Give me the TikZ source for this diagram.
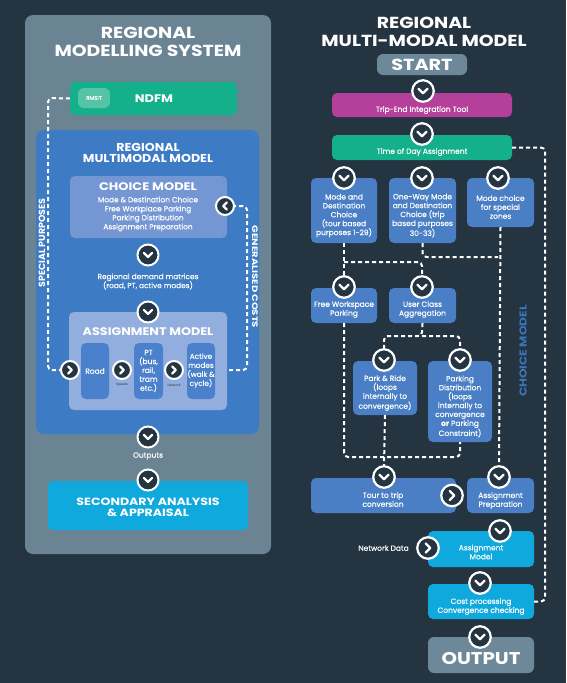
\documentclass[tikz,border=0pt]{standalone}
\usepackage{fontspec}
\usepackage{graphicx}
\setmainfont{Poppins}
\newfontfamily\txtf{Poppins}[FakeBold=0.35]
\usetikzlibrary{calc}
\definecolor{bgc}{HTML}{243441}
\definecolor{panel}{HTML}{6A8494}
\definecolor{rmm}{HTML}{3D7BC4}
\definecolor{chbox}{HTML}{7496D3}
\definecolor{asbox}{HTML}{92AEDF}
\definecolor{modebox}{HTML}{4A80CC}
\definecolor{ndfm}{HTML}{14B08C}
\definecolor{rmsit}{HTML}{55C4A6}
\definecolor{cyanbox}{HTML}{0FA9DD}
\definecolor{greybox}{HTML}{6D8999}
\definecolor{magbox}{HTML}{B5409C}
\definecolor{rblue}{HTML}{4B7FC5}
\definecolor{cmtext}{HTML}{3B74BB}
\definecolor{tiny}{HTML}{2A3A45}
\newcommand\widetxt[1]{\scalebox{1.18}[1]{#1}}
\tikzset{
  box/.style={rounded corners=5pt, inner sep=0pt, draw=none},
  txt/.style={text=white, align=center, inner sep=0pt, font=\txtf\fontsize{7.5}{8.9}\selectfont},
  ttl/.style={text=white, align=center, inner sep=0pt, font=\bfseries\fontsize{16}{18.5}\selectfont},
  hd/.style={text=white, align=center, inner sep=0pt, font=\bfseries\fontsize{11}{12}\selectfont},
  dl/.style={white, line width=2pt, dash pattern=on 4pt off 3pt, rounded corners=4pt},
  circbase/.style={circle, draw=white, fill=bgc, inner sep=0pt, line width=2.2pt},
  chev/.style={white, line width=2.3pt, line cap=round, line join=round},
  bd/.style={circbase, minimum size=21.5pt, path picture={\draw[chev] ([xshift=-4.5pt,yshift=2.2pt]path picture bounding box.center) -- ++(4.5pt,-4.5pt) -- ++(4.5pt,4.5pt);}},
  br/.style={circbase, minimum size=21.5pt, path picture={\draw[chev] ([xshift=-2.2pt,yshift=4.5pt]path picture bounding box.center) -- ++(4.5pt,-4.5pt) -- ++(-4.5pt,-4.5pt);}},
  sd/.style={circbase, minimum size=21pt, line width=2pt, path picture={\draw[chev] ([xshift=-4pt,yshift=2pt]path picture bounding box.center) -- ++(4pt,-4pt) -- ++(4pt,4pt);}},
  sr/.style={circbase, minimum size=18pt, line width=2pt, path picture={\draw[chev] ([xshift=-1.8pt,yshift=3.6pt]path picture bounding box.center) -- ++(3.6pt,-3.6pt) -- ++(-3.6pt,-3.6pt);}},
  sl/.style={circbase, minimum size=18pt, line width=2pt, path picture={\draw[chev] ([xshift=1.8pt,yshift=3.6pt]path picture bounding box.center) -- ++(-3.6pt,-3.6pt) -- ++(3.6pt,-3.6pt);}},
}
\begin{document}
\begin{tikzpicture}[x=1pt,y=-1pt]
\fill[bgc] (0,0) rectangle (566,683);
\useasboundingbox (0,0) rectangle (566,683);

% ---------------- LEFT PANEL ----------------
\node[box, rounded corners=8pt, fill=panel, minimum width=246pt, minimum height=539pt] (lp) at (148,284.5) {};
\node[ttl] (lt) at (148,42) {\widetxt{REGIONAL}\\\widetxt{MODELLING SYSTEM}};
\node[box, fill=ndfm, minimum width=167pt, minimum height=33pt] (ndfm) at (153.5,98.5) {};
\node[box, rounded corners=6pt, fill=rmsit, minimum width=32pt, minimum height=20pt, text=white, font=\txtf\fontsize{5.5}{6}\selectfont] (rmsit) at (94,98) {RMSIT};
\node[text=white, inner sep=0pt, font=\bfseries\fontsize{11}{12}\selectfont] (ndfmt) at (154,98.5) {\widetxt{NDFM}};

\node[box, rounded corners=8pt, fill=rmm, minimum width=223pt, minimum height=304pt] (rmmb) at (147.5,282) {};
\node[hd, font=\bfseries\fontsize{11.5}{11.5}\selectfont] (rmmt) at (148,153) {\scalebox{1.1}[1]{REGIONAL}\\\scalebox{1.1}[1]{MULTIMODAL MODEL}};

\node[box, fill=chbox, minimum width=157pt, minimum height=62pt] (choice) at (148.5,207) {};
\node[hd] (choicet) at (148,187) {\widetxt{CHOICE MODEL}};
\node[txt, font=\txtf\fontsize{7.4}{9}\selectfont] (choicel) at (148,214) {Mode \& Destination Choice\\Free Workplace Parking\\Parking Distribution\\Assignment Preparation};
\node[sl] (cgc) at (225,206) {};

\node[sd] (cl1) at (148,255) {};
\node[txt, font=\txtf\fontsize{7.4}{9}\selectfont] (dmt) at (148,281.5) {Regional demand matrices\\(road, PT, active modes)};
\node[box, fill=asbox, minimum width=158pt, minimum height=98pt] (assign) at (148,361) {};
\node[sd] (cl2) at (148,312) {};
\node[hd] (assignt) at (148,332) {\scalebox{1.16}[1]{ASSIGNMENT MODEL}};
\node[box, fill=modebox, minimum width=28pt, minimum height=56pt] (road) at (95,371) {};
\node[txt] (roadt) at (95,371) {Road};
\node[box, fill=modebox, minimum width=29pt, minimum height=56pt] (pt) at (148.5,371) {};
\node[txt] (ptt) at (148.5,371) {PT\\(bus,\\rail,\\tram\\etc.)};
\node[box, fill=modebox, minimum width=28pt, minimum height=56pt] (act) at (201,371) {};
\node[txt, font=\txtf\fontsize{7.3}{9}\selectfont] (actt) at (201,370.5) {Active\\modes\\(walk \&\\cycle)};
\node[sr] (croad) at (70,370) {};
\node[sr] (cpt) at (122,370) {};
\node[sr] (cact) at (174,370) {};
\node[text=tiny, inner sep=0pt, font=\fontsize{3.2}{4}\selectfont] (spd) at (122,385) {Speeds};
\node[text=tiny, inner sep=0pt, font=\fontsize{3.2}{4}\selectfont] (net) at (174,385) {Network};

\node[sd] (cl3) at (148,437) {};
\node[txt] (outs) at (148,456) {Outputs};
\node[box, fill=cyanbox, minimum width=200pt, minimum height=49pt] (sec) at (148,505.5) {};
\node[sd] (cl4) at (148,480) {};
\node[hd, font=\bfseries\fontsize{10.5}{11.5}\selectfont] (sect) at (148,507.5) {\scalebox{1.2}[1]{SECONDARY ANALYSIS}\\\scalebox{1.2}[1]{\& APPRAISAL}};

\node[text=white, inner sep=0pt, rotate=90, font=\bfseries\fontsize{9}{9}\selectfont] (spt) at (42,243) {\scalebox{1.05}[1]{SPECIAL PURPOSES}};
\node[text=white, inner sep=0pt, rotate=-90, font=\bfseries\fontsize{8}{9}\selectfont] (gct) at (255,277) {\scalebox{1.25}[1]{GENERALISED COSTS}};

\coordinate (sp1) at (48,98);
\draw[dl] (ndfm.west) -- (sp1) |- (croad.west);
\coordinate (gcs) at (229,370);
\coordinate (gc1) at (247,370);
\draw[dl] (gcs) -- (gc1) |- (cgc.east);

% ---------------- RIGHT SIDE ----------------
\node[ttl] (rt) at (424,32) {\widetxt{REGIONAL}\\\widetxt{MULTI-MODAL MODEL}};
\node[box, rounded corners=6pt, fill=greybox, minimum width=90pt, minimum height=21pt] (start) at (422,64.5) {};
\node[text=white, inner sep=0pt, font=\bfseries\fontsize{16}{16}\selectfont] (startt) at (422,64.5) {\scalebox{1.2}[1]{START}};
\node[box, fill=magbox, minimum width=180pt, minimum height=24pt] (trip) at (422,105) {};
\node[txt] (tript) at (422,110) {Trip-End Integration Tool};
\node[bd] (c1) at (423,91) {};
\node[box, fill=ndfm, minimum width=180pt, minimum height=25pt] (tod) at (422,147.5) {};
\node[txt] (todt) at (422,152) {Time of Day Assignment};
\node[bd] (c2) at (422,134) {};

\node[box, fill=rblue, minimum width=66pt, minimum height=65pt] (A) at (344,210.5) {};
\node[txt] (At) at (344,215.5) {Mode and\\Destination\\Choice\\(tour based\\purposes 1-29)};
\node[box, fill=rblue, minimum width=67pt, minimum height=65pt] (B) at (422.5,210.5) {};
\node[txt] (Bt) at (422.5,215.5) {One-Way Mode\\and Destination\\Choice (trip\\based purposes\\30-33)};
\node[box, fill=rblue, minimum width=67pt, minimum height=49pt] (C) at (500.5,202.5) {};
\node[txt] (Ct) at (500.5,207) {Mode choice\\for special\\zones};
\node[bd] (cA) at (344,178) {};
\node[bd] (cB) at (422,178) {};
\node[bd] (cC) at (498,178) {};

\node[box, fill=rblue, minimum width=66pt, minimum height=35pt] (fwp) at (344,305.5) {};
\node[txt] (fwpt) at (344,309.5) {Free Workspace\\Parking};
\node[box, fill=rblue, minimum width=67pt, minimum height=35pt] (uca) at (422.5,305.5) {};
\node[txt] (ucat) at (422.5,309.5) {User Class\\Aggregation};
\node[bd] (cF) at (344,287) {};
\node[bd] (cU) at (422,287) {};

\node[box, fill=rblue, minimum width=64pt, minimum height=54pt] (pr) at (385,388) {};
\node[txt] (prt) at (385,393) {Park \& Ride\\(loops\\internally to\\convergence)};
\node[box, fill=rblue, minimum width=64pt, minimum height=81pt] (pd) at (460,401.5) {};
\node[txt] (pdt) at (460,406.5) {Parking\\Distribution\\(loops\\internally to\\convergence\\{\bfseries or} Parking\\Constraint)};
\node[bd] (cPR) at (384,360) {};
\node[bd] (cPD) at (460,360) {};

\node[box, fill=rblue, minimum width=145pt, minimum height=35pt] (tour) at (383.5,495.5) {};
\node[txt] (tourt) at (383,499.5) {Tour to trip\\conversion};
\node[box, fill=rblue, minimum width=67pt, minimum height=35pt] (ap) at (500.5,495.5) {};
\node[txt] (apt) at (500.5,500.5) {Assignment\\Preparation};
\node[bd] (cT) at (384,477) {};
\node[bd] (cAP) at (499,477) {};
\node[br] (cTA) at (452,495.5) {};

\node[box, fill=cyanbox, minimum width=106pt, minimum height=36pt] (am) at (481,549) {};
\node[txt] (amt) at (481,552) {Assignment\\Model};
\node[bd] (cAM) at (500,531) {};
\node[br] (cND) at (428,548) {};
\node[txt, anchor=east] (ndt) at (409,548) {Network Data};

\node[box, fill=cyanbox, minimum width=106pt, minimum height=35pt] (cp) at (481,601.5) {};
\node[txt] (cpt) at (481,606.5) {Cost processing\\Convergence checking};
\node[bd] (cCP) at (480,583) {};

\node[box, rounded corners=6pt, fill=greybox, minimum width=106pt, minimum height=36pt] (out) at (481,655) {};
\node[text=white, inner sep=0pt, font=\bfseries\fontsize{17}{17}\selectfont] (outt) at (481,658) {\scalebox{1.16}[1]{OUTPUT}};
\node[bd] (cO) at (480,637) {};

\node[text=cmtext, inner sep=0pt, rotate=90, font=\bfseries\fontsize{10}{10}\selectfont] (cmt) at (523,351) {\scalebox{1.22}[1]{CHOICE MODEL}};

% dashed connectors right
\coordinate (r1) at (545,147.5);
\draw[dl] (tod.east) -- (r1) |- (cp.east);
\coordinate (a1) at (344,262);
\draw[dl] (A.south) -- (cF.north);
\draw[dl] (a1) -| (cU.north);
\coordinate (bj) at (498,257);
\draw[dl] (B.south) |- (bj);
\draw[dl] (C.south) -- (cAP.north);
\coordinate (u1) at (422,336);
\draw[dl] (uca.south) -- (u1) -| (cPR.north);
\draw[dl] (u1) -| (cPD.north);
\coordinate (l1) at (344,457);
\draw[dl] (fwp.south) -- (l1) -| (pd.south);
\draw[dl] (pr.south) -- (cT.north);
\end{tikzpicture}
\end{document}
